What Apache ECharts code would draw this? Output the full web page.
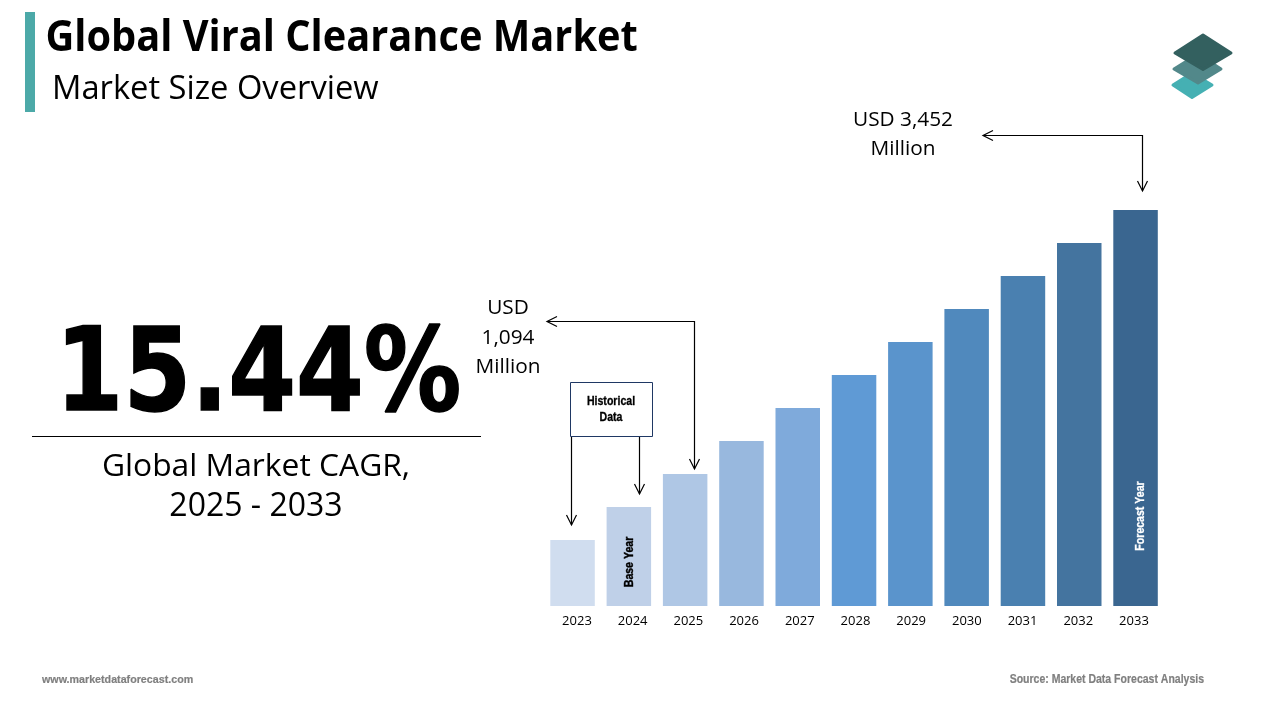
<!DOCTYPE html>
<html>
<head>
<meta charset="utf-8">
<title>Global Viral Clearance Market</title>
<style>
  html, body { margin: 0; padding: 0; background: #fff; }
  #chart { width: 1280px; height: 720px; }
</style>
<script src="https://cdn.jsdelivr.net/npm/echarts@6/dist/echarts.min.js"></script>
</head>
<body>
<div id="chart"></div>
<script>
// years and market size in USD million
var years = ['2023', '2024', '2025', '2026', '2027', '2028', '2029', '2030', '2031', '2032', '2033'];
var marketSize = [575, 863, 1151, 1438, 1726, 2014, 2301, 2589, 2877, 3164, 3452];
var barColors = ['#D0DDEF', '#BFD0E8', '#AFC7E5', '#98B8DE', '#7FAADB', '#5F9AD5',
  '#5A94CC', '#5089BD', '#4A80B0', '#44749F', '#3A6690'];

var titleText = 'Global Viral Clearance Market';
var subtitleText = 'Market Size Overview';
var cagrText = '15.44%';
var cagrLines = ['Global Market CAGR,', '2025 - 2033'];
var startLabel = ['USD', '1,094', 'Million'];
var endLabel = ['USD 3,452', 'Million'];

var SANS = '"Open Sans", sans-serif';
var HEAVY = '"DejaVu Sans", sans-serif';
var SMALL = '"Liberation Sans", sans-serif';

function text(x, y, str, size, opts) {
  opts = opts || {};
  var fill = opts.fill || '#000';
  return {
    type: 'text',
    z: 100,
    x: x,
    y: y,
    rotation: opts.rotation || 0,
    scaleX: opts.scaleX || 1,
    style: {
      text: str,
      fill: fill,
      // a thin outline makes the small labels as heavy as in the picture
      stroke: opts.thicken ? fill : null,
      lineWidth: opts.thicken || 0,
      font: (opts.weight || 'normal') + ' ' + size + 'px ' + (opts.family || SANS),
      textAlign: opts.align || 'center',
      textVerticalAlign: 'middle'
    }
  };
}

function line(points) {
  return {
    type: 'polyline',
    z: 100,
    shape: { points: points },
    style: { stroke: '#000', lineWidth: 1.2, fill: null }
  };
}

// open arrow head, tip at x,y
function arrowDown(x, y) {
  return line([[x - 5, y - 10], [x, y], [x + 5, y - 10]]);
}
function arrowLeft(x, y) {
  return line([[x + 10, y - 5], [x, y], [x + 10, y + 5]]);
}

function diamond(points, color) {
  return {
    type: 'polygon',
    z: 100,
    shape: { points: points },
    style: { fill: color, stroke: color, lineWidth: 3, lineJoin: 'round' }
  };
}

var graphics = [
  // title block
  { type: 'rect', shape: { x: 25, y: 12, width: 10, height: 100 }, style: { fill: '#4CA9A8' } },
  text(45.5, 39, titleText, 43, { align: 'left', weight: 'bold', scaleX: 0.925 }),
  text(52, 90, subtitleText, 32.7, { align: 'left' }),

  // logo
  diamond([[1173, 85], [1192, 73], [1212, 85], [1192, 97.5]], '#45B0B3'),
  diamond([[1174, 69], [1198, 54], [1221, 69], [1198, 83]], '#52888A'),
  diamond([[1175, 53], [1203, 35], [1231, 53], [1203, 69.5]], '#33605F'),

  // cagr block
  text(258.5, 380, cagrText, 116, { weight: 'bold', family: HEAVY, scaleX: 0.84, thicken: 1.5 }),
  { type: 'line', shape: { x1: 32, y1: 436.5, x2: 481, y2: 436.5 }, style: { stroke: '#000', lineWidth: 1 } },
  text(256, 467, cagrLines[0], 31.8),
  text(256, 507, cagrLines[1], 32),

  // value labels
  text(508, 308, startLabel[0], 20.8),
  text(508, 338, startLabel[1], 20.8),
  text(508, 367, startLabel[2], 20.8),
  text(903, 120, endLabel[0], 20.8),
  text(903, 149, endLabel[1], 20.8),

  // historical data box
  { type: 'rect', shape: { x: 570.5, y: 382.5, width: 82, height: 54 }, style: { fill: '#fff', stroke: '#1F3864', lineWidth: 1 } },
  text(611, 402, 'Historical', 12, { weight: 'bold', family: SMALL, scaleX: 0.88, thicken: 0.3 }),
  text(611, 418, 'Data', 12, { weight: 'bold', family: SMALL, scaleX: 0.88, thicken: 0.3 }),

  // arrows
  line([[571.5, 437], [571.5, 525]]),
  arrowDown(571.5, 525),
  line([[639.5, 437], [639.5, 494]]),
  arrowDown(639.5, 494),
  line([[547, 321.5], [694.5, 321.5], [694.5, 469]]),
  arrowDown(694.5, 469),
  arrowLeft(547, 321.5),
  line([[983, 135.5], [1142.5, 135.5], [1142.5, 191]]),
  arrowDown(1142.5, 191),
  arrowLeft(983, 135.5),

  // notes on the bars
  text(630, 562, 'Base Year', 12, { weight: 'bold', family: SMALL, rotation: Math.PI / 2, scaleX: 0.88, thicken: 0.4 }),
  text(1141, 516, 'Forecast Year', 12, { weight: 'bold', family: SMALL, fill: '#fff', rotation: Math.PI / 2, scaleX: 0.88, thicken: 0.3 }),

  // footer
  text(42, 680, 'www.marketdataforecast.com', 11.5, { align: 'left', weight: 'bold', fill: '#7F7F7F', family: SMALL, scaleX: 0.93, thicken: 0.2 }),
  text(1204, 680, 'Source: Market Data Forecast Analysis', 12, { align: 'right', weight: 'bold', fill: '#7F7F7F', family: SMALL, scaleX: 0.875, thicken: 0.2 })
];

var chart = echarts.init(document.getElementById('chart'));

var option = {
  animation: false,
  backgroundColor: '#fff',
  // second grid only carries the year labels, they sit a little off the bars
  grid: [
    { left: 544.4, top: 210, width: 619.3, height: 396 },
    { left: 549.1, top: 210, width: 612.7, height: 396 }
  ],
  xAxis: [{
    type: 'category',
    data: years,
    gridIndex: 0,
    axisLine: { show: false },
    axisTick: { show: false },
    axisLabel: { show: false }
  }, {
    type: 'category',
    data: years,
    gridIndex: 1,
    axisLine: { show: false },
    axisTick: { show: false },
    axisLabel: {
      interval: 0,
      margin: 9,
      fontSize: 13,
      color: '#000',
      fontFamily: SANS
    }
  }],
  yAxis: [{
    type: 'value',
    gridIndex: 0,
    min: 0,
    max: 3452,
    show: false
  }, {
    type: 'value',
    gridIndex: 1,
    min: 0,
    max: 3452,
    show: false
  }],
  series: [{
    type: 'bar',
    xAxisIndex: 0,
    yAxisIndex: 0,
    barWidth: 44.5,
    data: marketSize.map(function (v, i) {
      return { value: v, itemStyle: { color: barColors[i] } };
    })
  }],
  graphic: graphics
};
chart.setOption(option);
</script>
</body>
</html>
